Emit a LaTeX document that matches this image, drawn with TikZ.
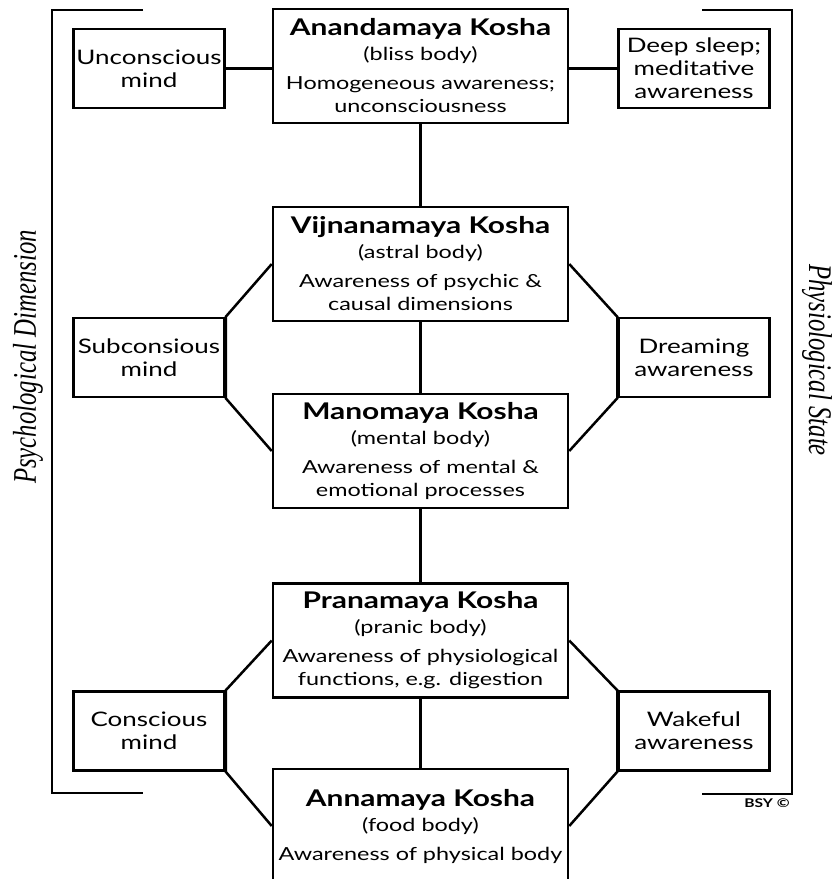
\documentclass[tikz,border=0pt]{standalone}
\usepackage{fontspec}
\setmainfont[FakeStretch=1.3]{Lato}
\newfontfamily\sidefont[FakeStretch=0.75]{Liberation Serif}
\newcommand{\koshatitle}[1]{{\fontsize{11.5}{12}\selectfont\bfseries #1}}

\begin{document}
\begin{tikzpicture}[x=0.5pt,y=-0.5pt,line width=1.25pt,
  kosha/.style={draw,minimum width=147.5pt,minimum height=57pt,inner sep=0pt,
    align=center,font=\fontsize{9}{11.5}\selectfont},
  mind/.style={draw,minimum width=75.5pt,minimum height=39.5pt,inner sep=0pt,
    align=center,font=\fontsize{10}{11.5}\selectfont},
  side/.style={font=\sidefont\itshape\fontsize{16.5}{18}\selectfont}]
\clip (0,0) rectangle (835,879);
% The five koshas
\node[kosha] (ananda) at (420.5,66)
  {\koshatitle{Anandamaya Kosha}\\[1pt](bliss body)\\[3pt]Homogeneous awareness;\\unconsciousness};
\node[kosha] (vijnana) at (420.5,264)
  {\koshatitle{Vijnanamaya Kosha}\\[1pt](astral body)\\[3pt]Awareness of psychic \&\\causal dimensions};
\node[kosha] (mano) at (420.5,451)
  {\koshatitle{Manomaya Kosha}\\[1pt](mental body)\\[3pt]Awareness of mental \&\\emotional processes};
\node[kosha] (prana) at (420.5,640.5)
  {\koshatitle{Pranamaya Kosha}\\[1pt](pranic body)\\[3pt]Awareness of physiological\\functions, e.g. digestion};
\node[kosha] (anna) at (420.5,826)
  {\koshatitle{Annamaya Kosha}\\[1pt](food body)\\[3pt]Awareness of physical body};
% Minds on the left
\node[mind] (unconscious) at (149,68.5) {Unconscious\\mind};
\node[mind] (subconscious) at (149,357.5) {Subconsious\\mind};
\node[mind] (conscious) at (149,731) {Conscious\\mind};
% States on the right
\node[mind] (deepsleep) at (694,68.5) {Deep sleep;\\meditative\\awareness};
\node[mind] (dreaming) at (694,357.5) {Dreaming\\awareness};
\node[mind] (wakeful) at (694,731) {Wakeful\\awareness};
% Connectors
\draw (ananda) -- (vijnana) -- (mano) -- (prana) -- (anna);
\draw (unconscious.east) -- (unconscious.east -| ananda.west);
\draw (deepsleep.west) -- (deepsleep.west -| ananda.east);
\draw (vijnana.west) -- (subconscious.north east) -- (subconscious.south east) -- (mano.west);
\draw (vijnana.east) -- (dreaming.north west) -- (dreaming.south west) -- (mano.east);
\draw (prana.west) -- (conscious.north east) -- (conscious.south east) -- (anna.west);
\draw (prana.east) -- (wakeful.north west) -- (wakeful.south west) -- (anna.east);
% The brackets and their labels
\draw (143,10) -- (52,10) -- (52,793) -- (143,793);
\draw (702,10) -- (792,10) -- (792,794) -- (702,794);
\node[side,rotate=90] (psych) at (28,357) {Psychological Dimension};
\node[side,rotate=-90] (physio) at (817,360) {Physiological State};
\node[font=\fontsize{6}{7}\selectfont\bfseries,inner sep=0pt] (bsy) at (767,803) {BSY \textcopyright};
\end{tikzpicture}
\end{document}
